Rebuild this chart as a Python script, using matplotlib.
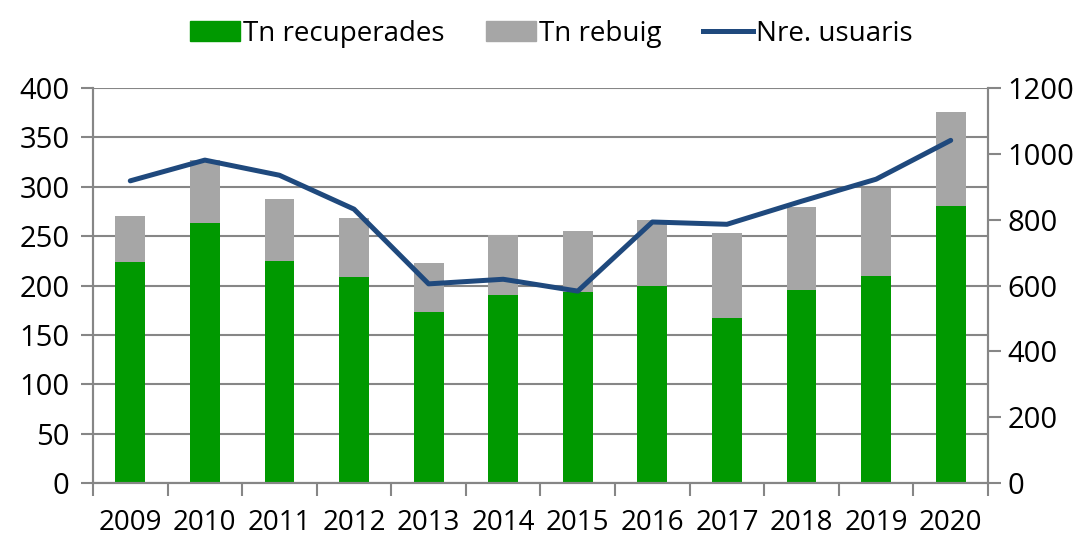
import numpy as np
import matplotlib.pyplot as plt
from matplotlib.lines import Line2D
from matplotlib.patches import Patch

plt.rcParams['font.family'] = ['Open Sans', 'DejaVu Sans']

years = ['2009', '2010', '2011', '2012', '2013', '2014',
         '2015', '2016', '2017', '2018', '2019', '2020']
tn_recuperades = [224, 263, 225, 209, 173, 190, 193, 200, 167, 195, 210, 281]
tn_rebuig = [46, 64, 63, 59, 50, 61, 62, 66, 86, 85, 89, 95]
nre_usuaris = [918, 981, 935, 832, 605, 619, 583, 793, 786, 856, 923, 1041]

green = '#009900'
grey = '#A6A6A6'
blue = '#1F497D'
axis_col = '#868686'

fig = plt.figure(figsize=(10.85, 5.38), dpi=100)
ax = fig.add_axes([0.0857, 0.1022, 0.8249, 0.7342])
ax2 = ax.twinx()

x = np.arange(len(years))
width = 0.4
ax.bar(x, tn_recuperades, width, color=green, zorder=2)
ax.bar(x, tn_rebuig, width, bottom=tn_recuperades, color=grey, zorder=2)
ax2.plot(x, nre_usuaris, color=blue, lw=3.6, solid_capstyle='round', zorder=3)

ax.set_xlim(-0.5, len(years) - 0.5)
ax.set_ylim(0, 400)
ax.set_yticks(np.arange(0, 401, 50))
ax2.set_ylim(0, 1200)
ax2.set_yticks(np.arange(0, 1201, 200))

ax.set_xticks(x)
ax.set_xticklabels(years)
ax.set_xticks(np.arange(-0.5, len(years), 1), minor=True)
ax.tick_params(axis='x', which='major', length=0, pad=19, labelsize=20)
ax.tick_params(axis='x', which='minor', length=9, width=1.5, color=axis_col)
ax.tick_params(axis='y', length=9, width=1.5, color=axis_col, labelsize=21, pad=8)
ax2.tick_params(axis='y', length=9, width=1.5, color=axis_col, labelsize=21, pad=5)

ax.grid(axis='y', color=axis_col, lw=1.5, zorder=0)
ax.set_axisbelow(True)

for a in (ax, ax2):
    a.spines['top'].set_visible(False)
    for s in ('left', 'right', 'bottom'):
        a.spines[s].set_color(axis_col)
        a.spines[s].set_linewidth(1.5)

handles = [Patch(color=green, label='Tn recuperades'),
           Patch(color=grey, label='Tn rebuig'),
           Line2D([0], [0], color=blue, lw=3.6, label='Nre. usuaris')]
fig.legend(handles=handles, loc='upper center', bbox_to_anchor=(0.508, 1.01),
           ncol=3, frameon=False, fontsize=20, handlelength=1.8,
           handleheight=0.75, handletextpad=0.1, columnspacing=1.5)

fig.savefig('out.png', dpi=100)
